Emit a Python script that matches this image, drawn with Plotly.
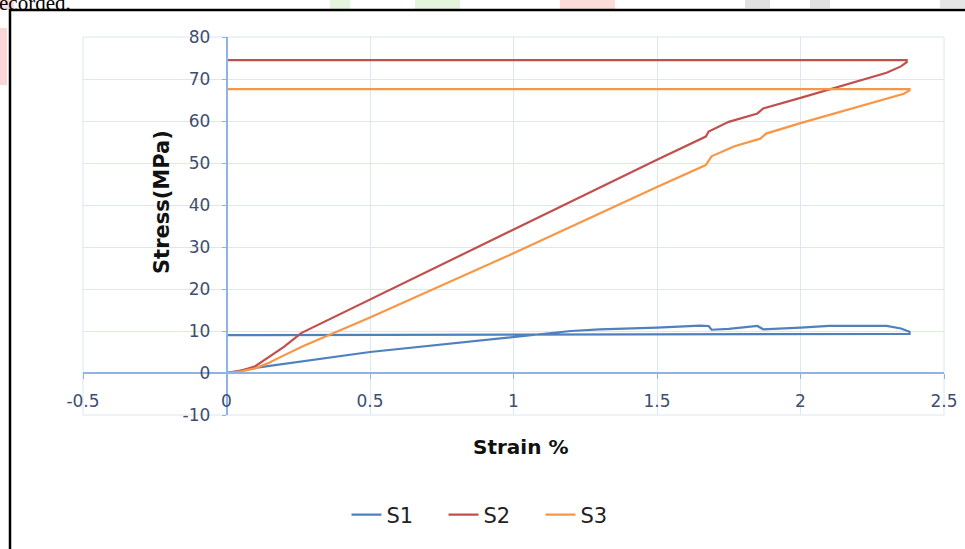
import plotly.graph_objects as go

# ---- data ----
s1_x = [0, 0.1, 0.5, 1.0, 1.2, 1.3, 1.5, 1.65, 1.68, 1.69, 1.75, 1.85, 1.87, 2.0, 2.1, 2.3, 2.35, 2.38, 2.38, 0]
s1_y = [0, 1.2, 5.0, 8.6, 10.0, 10.4, 10.8, 11.3, 11.2, 10.3, 10.5, 11.2, 10.4, 10.8, 11.2, 11.2, 10.6, 9.8, 9.3, 9.0]

s2_x = [0, 0.05, 0.1, 0.15, 0.2, 0.26, 0.5, 1.0, 1.5, 1.67, 1.68, 1.75, 1.85, 1.87, 2.0, 2.3, 2.35, 2.37, 2.37, 0]
s2_y = [0, 0.5, 1.6, 3.8, 6.2, 9.5, 17.5, 34.2, 50.8, 56.3, 57.5, 59.8, 61.8, 63.0, 65.5, 71.5, 73.0, 74.0, 74.5, 74.5]

s3_x = [0, 0.05, 0.1, 0.15, 0.2, 0.27, 0.5, 1.0, 1.5, 1.67, 1.69, 1.77, 1.86, 1.88, 2.0, 2.3, 2.36, 2.38, 2.38, 0]
s3_y = [0, 0.4, 1.1, 2.5, 4.2, 6.5, 13.2, 28.5, 44.3, 49.5, 51.6, 54.0, 55.8, 57.0, 59.5, 65.2, 66.5, 67.3, 67.6, 67.6]

series_names = ["S1", "S2", "S3"]
series_colors = ["#4F81BD", "#C0504D", "#F79646"]

x_ticks = [-0.5, 0, 0.5, 1, 1.5, 2, 2.5]
x_tick_text = ["-0.5", "0", "0.5", "1", "1.5", "2", "2.5"]
y_ticks = [-10, 0, 10, 20, 30, 40, 50, 60, 70, 80]
y_tick_text = ["-10", "0", "10", "20", "30", "40", "50", "60", "70", "80"]

x_range = [-0.5, 2.5]
y_range = [-10, 80]

# plot-area geometry in pixels (used to place page-context items)
L, R, T, B = 83, 944, 37, 415
W, H = R - L, B - T


def px(x):
    return (x - L) / W


def py(y):
    return (B - y) / H


fig = go.Figure()
for xs, ys, name, col in zip([s1_x, s2_x, s3_x], [s1_y, s2_y, s3_y], series_names, series_colors):
    fig.add_trace(go.Scatter(x=xs, y=ys, mode="lines", name=name,
                             line=dict(color=col, width=2.2)))

FONT = "DejaVu Sans, sans-serif"
tick_font = dict(family=FONT, size=17, color="#3F4E70")
grid_col = "#DCE6F4"
axis_col = "#8EB4E3"

fig.update_layout(
    width=965, height=549,
    paper_bgcolor="white", plot_bgcolor="white",
    margin=dict(l=L, r=965 - R, t=T, b=549 - B),
    showlegend=True,
    legend=dict(orientation="h", x=px(492), xanchor="center", y=py(515), yanchor="middle",
                font=dict(family=FONT, size=21, color="#222222"),
                entrywidth=52, tracegroupgap=0, bgcolor="rgba(0,0,0,0)"),
    xaxis=dict(range=x_range, tickvals=x_ticks, ticktext=x_tick_text,
               showgrid=True, gridcolor=grid_col, gridwidth=1,
               zeroline=False, showline=True, linecolor=axis_col, linewidth=1.5,
               anchor="free", position=10 / 90,
               ticks="outside", ticklen=5, tickcolor=axis_col,
               ticklabelstandoff=8,
               tickfont=tick_font, automargin=False),
    yaxis=dict(range=y_range, tickvals=y_ticks, ticktext=y_tick_text,
               showgrid=True, gridcolor=grid_col, gridwidth=1,
               zeroline=False, showline=True, linecolor=axis_col, linewidth=1.5,
               anchor="free", position=0.5 / 3,
               ticks="outside", ticklen=4, tickcolor=axis_col,
               ticklabelstandoff=8,
               tickfont=tick_font, automargin=False),
)

# plot area outer frame (light grid boundary)
fig.add_shape(type="rect", xref="paper", yref="paper", x0=0, x1=1, y0=0, y1=1,
              line=dict(color=grid_col, width=1), layer="below")

# axis titles
fig.add_annotation(text="<b>Stress(MPa)</b>", xref="paper", yref="paper",
                   x=px(148), y=py(202), textangle=-90,
                   showarrow=False, font=dict(family=FONT, size=21, color="#111111"))
fig.add_annotation(text="<b>Strain %</b>", xref="paper", yref="paper",
                   x=px(520), y=py(447), yanchor="middle",
                   showarrow=False, font=dict(family=FONT, size=20, color="#111111"))

# page context: faint watermark blobs, border box and fragment of text above
for x0, x1, y0, y1, c in [(0, 14, 0, 9, "rgba(240,120,120,0.25)"),
                          (0, 7, 28, 85, "rgba(240,120,120,0.3)"),
                          (330, 350, 0, 9, "rgba(170,220,140,0.3)"),
                          (415, 460, 0, 9, "rgba(170,220,140,0.3)"),
                          (560, 615, 0, 9, "rgba(245,140,130,0.3)"),
                          (745, 770, 0, 8, "rgba(170,170,170,0.35)"),
                          (810, 830, 0, 8, "rgba(170,170,170,0.35)"),
                          (940, 965, 0, 8, "rgba(170,170,170,0.3)")]:
    fig.add_shape(type="rect", xref="paper", yref="paper", x0=px(x0), x1=px(x1),
                  y0=py(y1), y1=py(y0), line=dict(width=0), fillcolor=c, layer="below")

fig.add_shape(type="rect", xref="paper", yref="paper",
              x0=px(10), x1=px(975), y0=py(560), y1=py(10),
              line=dict(color="black", width=2.5))
fig.add_annotation(text="ecorded.", xref="paper", yref="paper",
                   x=px(-3), y=py(3), xanchor="left", yanchor="middle",
                   showarrow=False, font=dict(family="Liberation Serif, serif", size=21, color="black"))

fig.write_html("out.html", config={"displayModeBar": False},
               post_script="document.body.style.margin='0';document.body.style.overflow='hidden';")
